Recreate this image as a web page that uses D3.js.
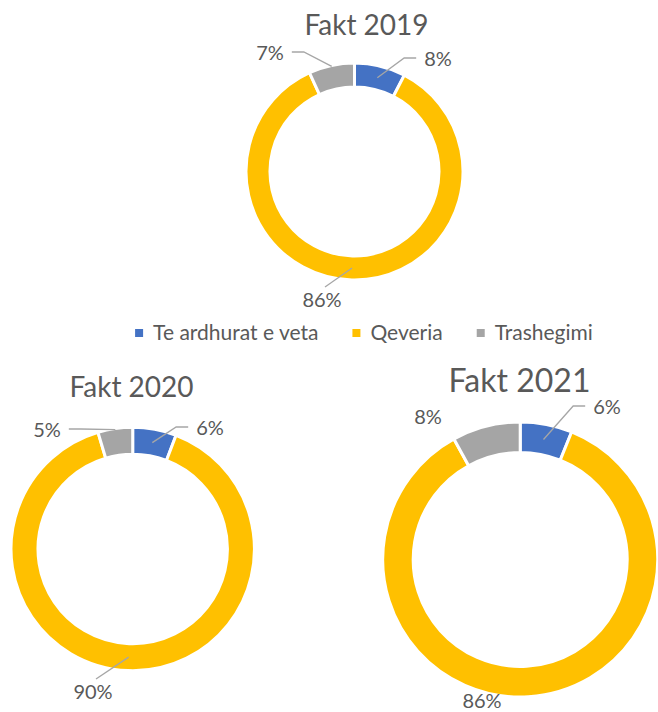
<!DOCTYPE html>
<html>
<head>
<meta charset="utf-8">
<script src="https://cdn.jsdelivr.net/npm/d3@7"></script>
<style>
  body { margin: 0; background: #fff; }
  svg text { font-family: Lato, "Open Sans", sans-serif; fill: #595959; }
</style>
</head>
<body>
<div id="chart"></div>
<script>
// categories and values (share in %)
var categories = ["Te ardhurat e veta", "Qeveria", "Trashegimi"];
var colors = ["#4472C4", "#FFC000", "#A5A5A5"];
var titles = ["Fakt 2019", "Fakt 2020", "Fakt 2021"];
var values2019 = [7.6, 85.6, 6.8];
var values2020 = [5.8, 89.6, 4.6];
var values2021 = [6.1, 85.9, 8.0];

var width = 658, height = 712;

// layout of each doughnut (positions / sizes only)
var layout = [
  { values: values2019, cx: 354.5, cy: 171.5, R: 108.5, r: 84.5,
    title: { x: 366.5, y: 35, size: 28 },
    labels: [
      { dx: 83.5, dy: -112.5, leader: "right", anchor: "mid" },
      { dx: -32.5, dy: 128.5, leader: "below", anchor: "mid" },
      { dx: -84.5, dy: -118.5, leader: "left", anchor: "outer" }
    ] },
  { values: values2020, cx: 132.7, cy: 549, R: 121.7, r: 94.7,
    title: { x: 131.5, y: 397, size: 28 },
    labels: [
      { dx: 77.3, dy: -121, leader: "right", anchor: "mid" },
      { dx: -39.7, dy: 143, leader: "below", anchor: "mid" },
      { dx: -85.7, dy: -119, leader: "left", anchor: "outer" }
    ] },
  { values: values2021, cx: 520.2, cy: 559.5, R: 137.5, r: 107,
    title: { x: 519.5, y: 392, size: 32 },
    labels: [
      { dx: 86.8, dy: -152.5, leader: "right", anchor: "mid" },
      { dx: -38.2, dy: 141, leader: null, anchor: "mid" },
      { dx: -92.2, dy: -142.5, leader: null, anchor: "mid" }
    ] }
];

var svg = d3.select("#chart")
    .append("svg")
    .attr("width", width)
    .attr("height", height);

var pie = d3.pie().sort(null).value(function(d) { return d; });

layout.forEach(function(c, ci) {
  var g = svg.append("g")
      .attr("transform", "translate(" + c.cx + "," + c.cy + ")");

  var arc = d3.arc().innerRadius(c.r).outerRadius(c.R);
  var arcs = pie(c.values);

  // slices
  g.selectAll("path.slice")
    .data(arcs)
    .enter().append("path")
      .attr("class", "slice")
      .attr("d", arc)
      .style("fill", function(d, i) { return colors[i]; })
      .style("stroke", "white")
      .style("stroke-width", 3);

  // title
  svg.append("text")
    .attr("x", c.title.x)
    .attr("y", c.title.y)
    .attr("text-anchor", "middle")
    .style("font-size", c.title.size + "px")
    .text(titles[ci]);

  // data labels with leader lines
  arcs.forEach(function(d, i) {
    var lab = c.labels[i];
    var txt = g.append("text")
        .attr("x", lab.dx)
        .attr("y", lab.dy)
        .attr("dy", "0.35em")
        .attr("text-anchor", "middle")
        .style("font-size", "20px")
        .text(Math.round(d.value) + "%");

    if (!lab.leader) return;
    var half = txt.node().getComputedTextLength() / 2;
    var mid = (d.startAngle + d.endAngle) / 2;
    var rad = lab.anchor == "outer" ? c.R - 1 : (c.R + c.r) / 2;
    var start = [Math.sin(mid) * rad, -Math.cos(mid) * rad];
    var pts;
    if (lab.leader == "right") {
      var ex = lab.dx - half - 8;
      pts = [start, [ex - 12, lab.dy - 1], [ex, lab.dy - 1]];
    } else if (lab.leader == "left") {
      var ex2 = lab.dx + half + 8;
      pts = [start, [ex2 + 12, lab.dy - 1], [ex2, lab.dy - 1]];
    } else {
      pts = [start, [lab.dx + 3, lab.dy - 13]];
    }
    g.append("path")
      .attr("d", d3.line()(pts))
      .style("fill", "none")
      .style("stroke", "#A6A6A6")
      .style("stroke-width", 1.3);
  });
});

// legend
var legend = svg.append("g").attr("class", "legend");
var lx = 0;
categories.forEach(function(name, i) {
  var item = legend.append("g").attr("transform", "translate(" + lx + ",0)");
  item.append("rect")
    .attr("x", 0).attr("y", -4)
    .attr("width", 8).attr("height", 8)
    .style("fill", colors[i]);
  var t = item.append("text")
    .attr("x", 18).attr("y", 0)
    .attr("dy", "0.35em")
    .style("font-size", "21px")
    .text(name);
  lx += 18 + t.node().getComputedTextLength() + 34;
});
lx -= 34;
legend.attr("transform", "translate(" + (364 - lx / 2) + ",333)");
</script>
</body>
</html>
